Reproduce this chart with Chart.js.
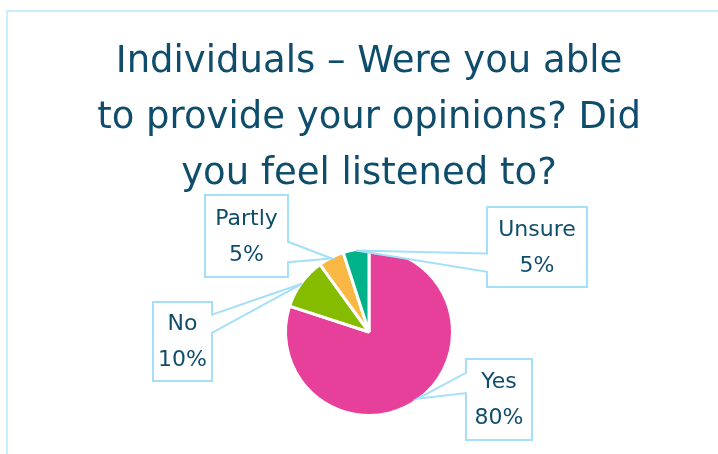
<!DOCTYPE html>
<html>
<head>
<meta charset="utf-8">
<script src="https://cdn.jsdelivr.net/npm/chart.js@4.4.1/dist/chart.umd.min.js"></script>
<style>
    html, body { margin: 0; padding: 0; background: #fff; overflow: hidden; }
    #wrap { position: relative; width: 718px; height: 454px; overflow: hidden; }
    #frame {
        position: absolute; left: 6px; top: 10px; width: 712px; height: 444px;
        border-left: 2px solid #c8edfc; border-top: 2px solid #c8edfc; box-sizing: border-box;
    }
    #chart { position: absolute; left: 0; top: 0; }
</style>
</head>
<body>
<div id="wrap">
    <div id="frame"></div>
    <canvas id="chart" width="718" height="454"></canvas>
</div>
<script>
// Survey answers
const answers = ['Yes', 'No', 'Partly', 'Unsure'];
const shares = [80, 10, 5, 5];
const sliceColors = ['#e6409a', '#86bc00', '#f8b843', '#00b289'];
const titleLines = ['Individuals \u2013 Were you able', 'to provide your opinions? Did', 'you feel listened to?'];

// Callout boxes, relative to pie centre: box offset/size, which side the pointer leaves from,
// and where along that side the pointer base sits (fractions of the side)
const callouts = [
    { dx: 97, dy: 27, w: 66, h: 81, side: 'left', base: [0.17, 0.42] },
    { dx: -216, dy: -30, w: 59, h: 79, side: 'right', base: [0.16, 0.39] },
    { dx: -164, dy: -137, w: 83, h: 82, side: 'right', base: [0.57, 0.82] },
    { dx: 118, dy: -125, w: 100, h: 80, side: 'left', base: [0.58, 0.81] }
];

const textColor = '#0f4d6c';
const fontFamily = '"DejaVu Sans", "Open Sans", sans-serif';

const calloutPlugin = {
    id: 'callouts',
    afterDatasetsDraw(chart) {
        const ctx = chart.ctx;
        const arcs = chart.getDatasetMeta(0).data;
        ctx.save();
        arcs.forEach((arc, i) => {
            const c = callouts[i];
            const { x: cx, y: cy, startAngle, endAngle, outerRadius } = arc.getProps(['x', 'y', 'startAngle', 'endAngle', 'outerRadius'], true);
            const mid = (startAngle + endAngle) / 2;
            const tipX = cx + Math.cos(mid) * (outerRadius - 1);
            const tipY = cy + Math.sin(mid) * (outerRadius - 1);
            const bx = cx + c.dx, by = cy + c.dy;
            const b1 = by + c.h * c.base[0], b2 = by + c.h * c.base[1];

            ctx.beginPath();
            ctx.moveTo(bx, by);
            ctx.lineTo(bx + c.w, by);
            if (c.side === 'right') {
                ctx.lineTo(bx + c.w, b1);
                ctx.lineTo(tipX, tipY);
                ctx.lineTo(bx + c.w, b2);
            }
            ctx.lineTo(bx + c.w, by + c.h);
            ctx.lineTo(bx, by + c.h);
            if (c.side === 'left') {
                ctx.lineTo(bx, b2);
                ctx.lineTo(tipX, tipY);
                ctx.lineTo(bx, b1);
            }
            ctx.closePath();
            ctx.fillStyle = '#ffffff';
            ctx.fill();
            ctx.lineWidth = 2;
            ctx.strokeStyle = '#a4e0f8';
            ctx.lineJoin = 'miter';
            ctx.stroke();

            ctx.fillStyle = textColor;
            ctx.font = `22px ${fontFamily}`;
            ctx.textAlign = 'center';
            ctx.textBaseline = 'middle';
            const tx = bx + c.w / 2, ty = by + c.h / 2 + 1;
            ctx.fillText(chart.data.labels[i], tx, ty - 18);
            ctx.fillText(`${chart.data.datasets[0].data[i]}%`, tx, ty + 18);
        });
        ctx.restore();
    }
};

new Chart(document.getElementById('chart'), {
    type: 'pie',
    data: {
        labels: answers,
        datasets: [{
            data: shares,
            backgroundColor: sliceColors,
            borderColor: '#ffffff',
            borderWidth: 3
        }]
    },
    options: {
        responsive: false,
        animation: false,
        layout: { padding: { left: 20, right: 0, top: 0, bottom: 37 } },
        plugins: {
            legend: { display: false },
            tooltip: { enabled: false },
            title: {
                display: true,
                text: titleLines,
                color: textColor,
                font: { family: fontFamily, size: 37, weight: 'normal', lineHeight: 1.5135 },
                padding: { top: 34, bottom: 45 }
            }
        }
    },
    plugins: [calloutPlugin]
});
</script>
</body>
</html>
